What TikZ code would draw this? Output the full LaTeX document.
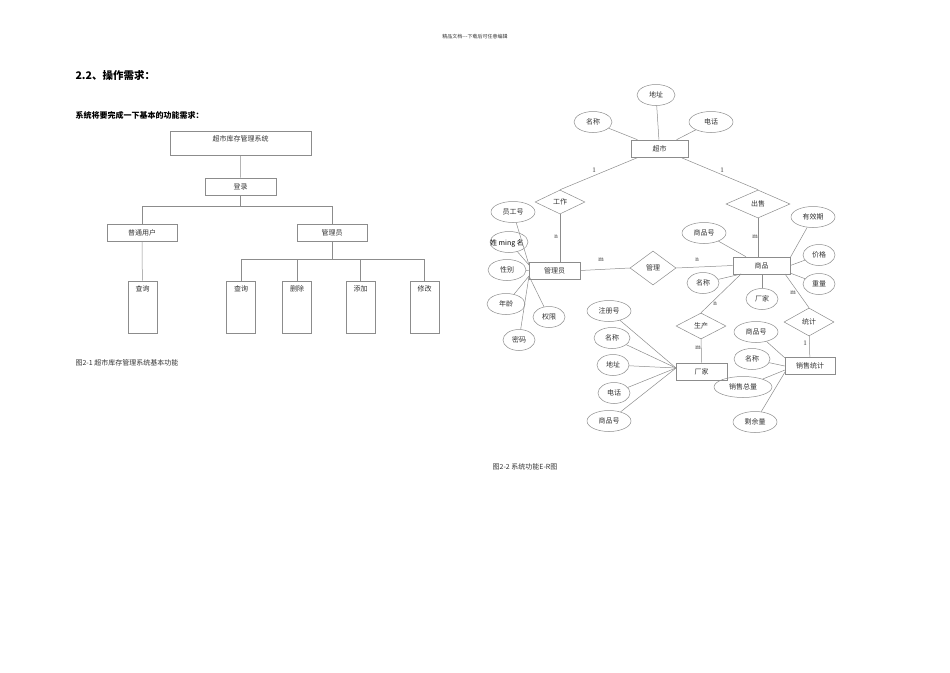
\documentclass[tikz,border=0pt]{standalone}
\usepackage{fontspec}
\setmainfont{Liberation Serif}
\newfontfamily\cjk{Noto Sans CJK SC}
\usetikzlibrary{shapes.geometric}
\begin{document}
\begin{tikzpicture}[x=1pt,y=-1pt,
  every node/.style={font=\cjk\fontsize{7}{8}\selectfont,text=black!80},
  box/.style={draw=black!45,line width=0.6pt,inner sep=0},
  att/.style={draw=black!45,line width=0.5pt,ellipse,minimum width=38pt,minimum height=21pt,inner sep=0},
  rel/.style={draw=black!45,line width=0.5pt,diamond,aspect=2,inner sep=0},
  ln/.style={draw=black!45,line width=0.5pt},
  lbl/.style={font=\fontsize{7}{8}\selectfont}]
\useasboundingbox (0,0) rectangle (950,672);
\node[font=\cjk\fontsize{5}{6}\selectfont] (hdr) at (475,37) {精品文档---下载后可任意编辑};
\node[anchor=west,font=\cjk\bfseries\fontsize{10.5}{12}\selectfont,text=black] (h1) at (72,75) {2.2、操作需求：};
\node[anchor=west,font=\cjk\bfseries\fontsize{8}{10}\selectfont,text=black] (h2) at (72,115) {系统将要完成一下基本的功能需求：};
% left tree
\node[box,minimum width=141pt,minimum height=24pt,anchor=north west] (sys) at (170,131) {};
\node (syst) at (240.5,139) {超市库存管理系统};
\node[box,minimum width=71pt,minimum height=17pt] (login) at (240.5,186.5) {登录};
\node[box,minimum width=70pt,minimum height=17pt] (user) at (142,232.5) {普通用户};
\node[box,minimum width=70pt,minimum height=17pt] (admin) at (332,232.5) {管理员};
\foreach \n/\x/\t in {q0/142.5/查询,q1/241/查询,q2/297/删除,q3/360.5/添加,q4/424.5/修改}{
  \node[box,minimum width=29pt,minimum height=52pt] (\n) at (\x,307) {};
  \node (\n t) at (\x,289) {\t};
}
\draw[ln] (sys) -- (login);
\draw[ln] (login.south) -- (240.5,206) -| (user.north);
\draw[ln] (240.5,206) -| (admin.north);
\draw[ln] (user) -- (q0);
\draw[ln] (admin.south) -- (332,259);
\draw[ln] (241,259) -- (424.5,259);
\foreach \n/\x in {q1/241,q2/297,q3/360.5,q4/424.5}{\draw[ln] (\x,259) -- (\n.north);}
\node[anchor=west] (cap1) at (72,363) {图2-1 超市库存管理系统基本功能};
% ER
\node[box,minimum width=57pt,minimum height=17pt] (cs) at (659.5,148.5) {超市};
\node[att] (dz) at (656,95) {地址};
\node[att] (mc) at (593,122) {名称};
\node[att,minimum width=44pt] (dh) at (711,122) {电话};
\draw[ln] (dz) -- (cs); \draw[ln] (mc) -- (cs); \draw[ln] (dh) -- (cs);
\node[rel,minimum width=50pt,minimum height=24pt] (gz) at (560,202) {工作};
\node[rel,minimum width=64pt,minimum height=28pt] (cshou) at (758,204) {出售};
\draw[ln] (cs) -- (gz.north); \draw[ln] (cs) -- (cshou.north);
\node[lbl] (l1) at (594,170) {1}; \node[lbl] (l2) at (722,170) {1};
\node[box,minimum width=51pt,minimum height=17pt] (gly) at (554.5,270.5) {管理员};
\node[box,minimum width=57pt,minimum height=17pt] (sp) at (761.5,265.5) {商品};
\node[rel,minimum width=46pt,minimum height=34pt] (gl) at (653,268) {管理};
\draw[ln] (gz) -- (gly.north -| gz); \node[lbl] (ln1) at (556,237) {n};
\draw[ln] (cshou) -- (sp.north -| cshou); \node[lbl] (lm1) at (755,237) {m};
\draw[ln] (gly.east) -- (gl.west); \draw[ln] (gl.east) -- (sp.west);
\node[lbl] (lm2) at (601,260) {m}; \node[lbl] (ln2) at (697,260) {n};
% admin attrs
\node[att,minimum width=44pt] (ygh) at (513,212) {员工号};
\node[att] (xm) at (509,242) {};
\node[font=\cjk\fontsize{7}{8}\selectfont,text=black] (xmt) at (507,243) {姓 ming 名};
\node[att] (xb) at (507,270) {性别};
\node[att] (nl) at (506,304) {年龄};
\node[att,minimum width=32pt] (qx) at (549,317) {权限};
\node[att,minimum width=32pt] (mm) at (519,340) {密码};
\coordinate (gw) at (529,265);
\draw[ln] (ygh) -- (gw); \draw[ln] (xm) -- (gw); \draw[ln] (xb) -- (gly.west);
\draw[ln] (nl) -- (529,276); \draw[ln] (qx) -- (529,276); \draw[ln] (mm) -- (529,276);
% product attrs
\node[att,minimum width=44pt] (sph) at (704,233) {商品号};
\node[att,minimum width=44pt] (yxq) at (813,217) {有效期};
\node[att,minimum width=32pt] (jg) at (819,255) {价格};
\node[att,minimum width=32pt] (zl) at (819,284) {重量};
\node[att,minimum width=32pt] (spmc) at (703,283) {名称};
\node[att,minimum width=32pt] (spcj) at (762,299) {厂家};
\draw[ln] (sph) -- (sp); \draw[ln] (yxq) -- (790,258); \draw[ln] (jg) -- (sp.east);
\draw[ln] (zl) -- (790,273); \draw[ln] (spmc) -- (741,274); \draw[ln] (spcj) -- (sp.south -| spcj);
\node[rel,minimum width=50pt,minimum height=26pt] (sc) at (701,326) {生产};
\node[rel,minimum width=50pt,minimum height=28pt] (tj) at (809,322) {统计};
\draw[ln] (sc.north) -- (741,274); \node[lbl] (ln3) at (715,304) {n};
\draw[ln] (tj.north) -- (785,274); \node[lbl] (lm3) at (793,293) {m};
\node[box,minimum width=51pt,minimum height=17pt] (cj) at (701.5,371.5) {厂家};
\node[box,minimum width=50pt,minimum height=17pt] (xstj) at (810,366) {销售统计};
\draw[ln] (sc) -- (cj); \node[lbl] (lm4) at (698,348) {m};
\draw[ln] (tj) -- (xstj); \node[lbl] (l13) at (805,343) {1};
\node[att,minimum width=44pt] (zch) at (609,311) {注册号};
\node[att,minimum width=36pt] (cmc) at (612,338) {名称};
\node[att,minimum width=32pt] (cdz) at (613,365) {地址};
\node[att,minimum width=32pt] (cdh) at (614,393) {电话};
\node[att,minimum width=44pt] (csp) at (609,421) {商品号};
\foreach \a in {zch,cmc,cdz,cdh,csp}{\draw[ln] (\a) -- (676,368);}
\node[att,minimum width=44pt] (xsp) at (756,332) {商品号};
\node[att,minimum width=36pt] (xmc) at (752,359) {名称};
\node[att,minimum width=58pt] (xszl) at (743,387) {销售总量};
\node[att,minimum width=44pt] (syl) at (755,422) {剩余量};
\draw[ln] (xsp) -- (785,358); \draw[ln] (xmc) -- (xstj.west); \draw[ln] (xszl) -- (785,370); \draw[ln] (syl) -- (785,372);
\node (cap2) at (525,467) {图2-2 系统功能E-R图};
\end{tikzpicture}
\end{document}
